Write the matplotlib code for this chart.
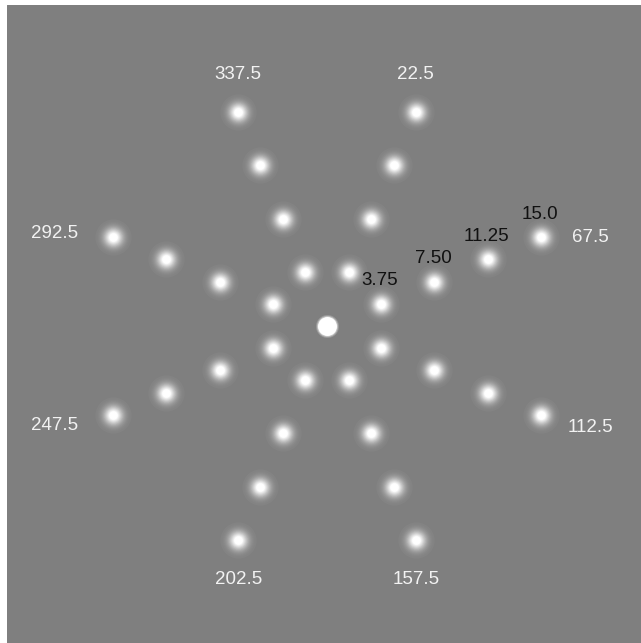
import numpy as np
import matplotlib
matplotlib.use("Agg")
import matplotlib.pyplot as plt

plt.rcParams['font.family'] = ['Liberation Sans', 'DejaVu Sans']

# polar angles (deg, clockwise from up) and eccentricities (deg visual angle)
angles = [22.5, 67.5, 112.5, 157.5, 202.5, 247.5, 292.5, 337.5]
eccentricities = [3.75, 7.50, 11.25, 15.0]
ecc_labels = ["3.75", "7.50", "11.25", "15.0"]
angle_labels = ["22.5", "67.5", "112.5", "157.5", "202.5", "247.5", "292.5", "337.5"]
label_angle = 67.5  # meridian along which eccentricities are labelled

W, H, DPI = 641, 643, 100
fig = plt.figure(figsize=(W / DPI, H / DPI), dpi=DPI)
fig.patch.set_facecolor('white')
ax = fig.add_axes([7 / W, 0, 634 / W, 638 / H])
ax.set_facecolor('#7f7f7f')
ax.set_xlim(-20.69, 20.30)
ax.set_ylim(-20.49, 20.75)
ax.set_axis_off()
ax.add_patch(plt.Rectangle((0, 0), 1, 1, transform=ax.transAxes,
                           color='#7f7f7f', zorder=0))

def pos(ecc, ang):
    t = np.deg2rad(ang)
    return ecc * np.sin(t), ecc * np.cos(t)

xs, ys = [], []
for a in angles:
    for e in eccentricities:
        x, y = pos(e, a)
        xs.append(x)
        ys.append(y)
xs = np.array(xs)
ys = np.array(ys)

# blurred blobs built from layered translucent discs (gaussian profile)
radii = np.linspace(18, 0.8, 32)  # px
sigma = 6.8
prev = 0.0
for r in radii:
    target = min(1.0, 1.2 * np.exp(-(r ** 2) / (2 * sigma ** 2)))
    a = 1 - (1 - target) / (1 - prev) if prev < 1 else 0
    a = float(np.clip(a, 0, 1))
    prev = target
    s = (2 * r * 72 / DPI) ** 2
    ax.scatter(xs, ys, s=s, color='white', alpha=a, linewidths=0, zorder=2)

# fixation dot
for r, a in [(11.5, 0.2), (10.5, 0.4), (9.5, 1.0)]:
    ax.scatter([0], [0], s=(2 * r * 72 / DPI) ** 2, color='white', alpha=a,
               linewidths=0, zorder=3)

# angle labels
for a, lab in zip(angles, angle_labels):
    x, y = pos(eccentricities[-1], a)
    if a in (22.5, 337.5):
        off = (0, 37)
    elif a in (157.5, 202.5):
        off = (0, -39)
    elif a in (67.5,):
        off = (49, 0)
    elif a in (112.5,):
        off = (49, -13)
    elif a in (247.5,):
        off = (-58, -11)
    else:
        off = (-58, 4)
    ax.annotate(lab, (x, y), xytext=off, textcoords='offset pixels',
                ha='center', va='center', color='#f2f2f2', fontsize=13.5, zorder=4)

# eccentricity labels
for e, lab in zip(eccentricities, ecc_labels):
    x, y = pos(e, label_angle)
    ax.annotate(lab, (x, y), xytext=(-1, 23), textcoords='offset pixels',
                ha='center', va='center', color='#111111', fontsize=13.5, zorder=4)

fig.savefig('out.png', dpi=DPI, facecolor='white')
